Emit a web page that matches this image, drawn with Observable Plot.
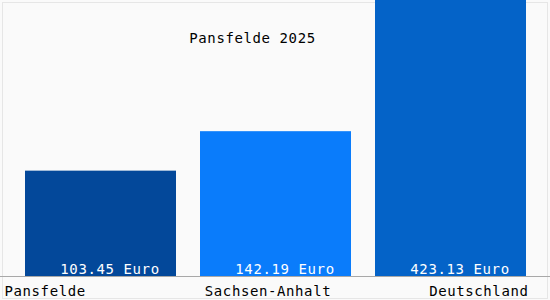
<!DOCTYPE html>
<html>
<head>
<meta charset="utf-8">
<script src="https://cdn.jsdelivr.net/npm/d3@7"></script>
<script src="https://cdn.jsdelivr.net/npm/@observablehq/plot@0.6"></script>
<style>
  html, body { margin: 0; padding: 0; background: #fafafa; }
  #wrap { position: relative; width: 550px; height: 300px; }
  #border { position: absolute; left: 2px; top: 2px; width: 544px; height: 295px; border: 1px solid #e6e6e6; pointer-events: none; z-index: 0; }
  #wrap svg { position: absolute; left: 0; top: 0; z-index: 1; }
  #wrap svg text { font-family: "DejaVu Sans Mono", monospace; letter-spacing: 0.6px; }
</style>
</head>
<body>
<div id="wrap"><div id="border"></div></div>
<script>
const title = "Pansfelde 2025";
const regions = ["Pansfelde", "Sachsen-Anhalt", "Deutschland"];
const values = [103.45, 142.19, 423.13];
const valueLabels = ["103.45 Euro", "142.19 Euro", "423.13 Euro"];
const colors = ["#03489a", "#0a7cfb", "#0463c8"];

const data = regions.map((r, i) => ({region: r, value: values[i], label: valueLabels[i]}));

const font = {fontFamily: "DejaVu Sans Mono", fontSize: 14};

const chart = Plot.plot({
  width: 550,
  height: 300,
  marginTop: 0,
  marginBottom: 24,
  marginLeft: 0,
  marginRight: 0,
  style: {background: "transparent", overflow: "visible"},
  x: {domain: regions, padding: 0.14, axis: null},
  y: {domain: [0, 271], clamp: true, axis: null},
  color: {domain: regions, range: colors},
  marks: [
    Plot.barY(data, {x: "region", y: "value", fill: "region"}),
    Plot.ruleY([0], {stroke: "#a8a8a8", strokeWidth: 1}),
    Plot.text(data, {x: "region", text: "label", frameAnchor: "bottom", dy: -3, dx: 9, fill: "white", ...font}),
    Plot.text([regions[0]], {text: d => d, frameAnchor: "bottom-left", textAnchor: "start", dx: 4, dy: 19, fill: "black", ...font}),
    Plot.text([regions[1]], {x: d => d, text: d => d, frameAnchor: "bottom", textAnchor: "middle", dx: -8, dy: 19, fill: "black", ...font}),
    Plot.text([regions[2]], {text: d => d, frameAnchor: "bottom-right", textAnchor: "end", dx: -22, dy: 19, fill: "black", ...font}),
    Plot.text([title], {text: d => d, frameAnchor: "top", dx: -23, dy: 33, fill: "black", ...font})
  ]
});
document.getElementById("wrap").appendChild(chart);
</script>
</body>
</html>
